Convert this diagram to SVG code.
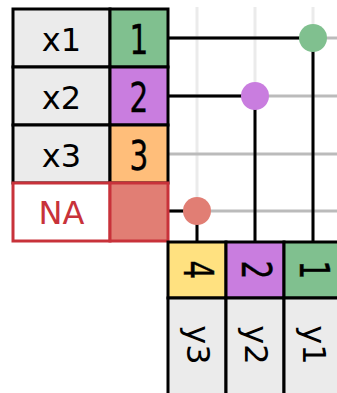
<svg xmlns="http://www.w3.org/2000/svg" width="337" height="393" viewBox="0 0 337 393">
<style>
.cell{stroke:#000;stroke-width:3}
.na{stroke:#c8323a;stroke-width:3}
.key{font-family:"DejaVu Sans","Liberation Sans",sans-serif;font-size:32px;text-anchor:middle;dominant-baseline:central}
.val{font-family:"DejaVu Sans Condensed","DejaVu Sans",sans-serif;font-size:41px;text-anchor:middle;dominant-baseline:central;stroke:#000;stroke-width:0.4}
.vg{stroke:#ebebeb;stroke-width:3}
.hg{stroke:#bbbbbb;stroke-width:3}
.bl{stroke:#000;stroke-width:3;fill:none}
</style>
<rect width="337" height="393" fill="#fff"/>
<g id="connectors">
<line class="vg" x1="197" y1="7" x2="197" y2="242"/>
<line class="vg" x1="255" y1="7" x2="255" y2="242"/>
<line class="vg" x1="313" y1="7" x2="313" y2="242"/>
<line class="hg" x1="168" y1="38" x2="337" y2="38"/>
<line class="hg" x1="168" y1="96" x2="337" y2="96"/>
<line class="hg" x1="168" y1="154" x2="337" y2="154"/>
<line class="hg" x1="168" y1="211" x2="337" y2="211"/>
<path class="bl" d="M168 38H313V242"/>
<path class="bl" d="M168 96H255V242"/>
<path class="bl" d="M168 211H197V242"/>
<circle cx="313" cy="38" r="14" fill="#80c08f"/>
<circle cx="255" cy="96" r="14" fill="#c97ddf"/>
<circle cx="197" cy="211" r="14" fill="#e17e74"/>
</g>
<g id="x1">
<rect class="cell" x="13" y="9" width="97" height="58" fill="#ebebeb"/>
<rect class="cell" x="110" y="9" width="58" height="58" fill="#80c08f"/>
<text class="key" x="61.5" y="40">x1</text>
<text class="val" transform="translate(139 40) scale(0.8 1)">1</text>
</g>
<g id="x2">
<rect class="cell" x="13" y="67" width="97" height="58" fill="#ebebeb"/>
<rect class="cell" x="110" y="67" width="58" height="58" fill="#c97ddf"/>
<text class="key" x="61.5" y="98">x2</text>
<text class="val" transform="translate(139 98) scale(0.8 1)">2</text>
</g>
<g id="x3">
<rect class="cell" x="13" y="125" width="97" height="58" fill="#ebebeb"/>
<rect class="cell" x="110" y="125" width="58" height="58" fill="#ffbe7a"/>
<text class="key" x="61.5" y="156">x3</text>
<text class="val" transform="translate(139 156) scale(0.8 1)">3</text>
</g>
<g id="xna">
<rect class="na" x="13" y="183" width="97" height="58" fill="#fff"/>
<rect class="na" x="110" y="183" width="58" height="58" fill="#e17e74"/>
<text class="key" x="61.5" y="213" fill="#c8323a">NA</text>
</g>
<g id="y3">
<rect class="cell" x="168" y="242" width="58" height="56" fill="#ffe180"/>
<rect class="cell" x="168" y="298" width="58" height="98" fill="#ebebeb"/>
<text class="val" transform="translate(198 270) rotate(90) scale(0.8 1)">4</text>
<text class="key" transform="translate(198 345) rotate(90)">y3</text>
</g>
<g id="y2">
<rect class="cell" x="226" y="242" width="58" height="56" fill="#c97ddf"/>
<rect class="cell" x="226" y="298" width="58" height="98" fill="#ebebeb"/>
<text class="val" transform="translate(256 270) rotate(90) scale(0.8 1)">2</text>
<text class="key" transform="translate(256 345) rotate(90)">y2</text>
</g>
<g id="y1">
<rect class="cell" x="284" y="242" width="58" height="56" fill="#80c08f"/>
<rect class="cell" x="284" y="298" width="58" height="98" fill="#ebebeb"/>
<text class="val" transform="translate(314 270) rotate(90) scale(0.8 1)">1</text>
<text class="key" transform="translate(314 345) rotate(90)">y1</text>
</g>
</svg>
